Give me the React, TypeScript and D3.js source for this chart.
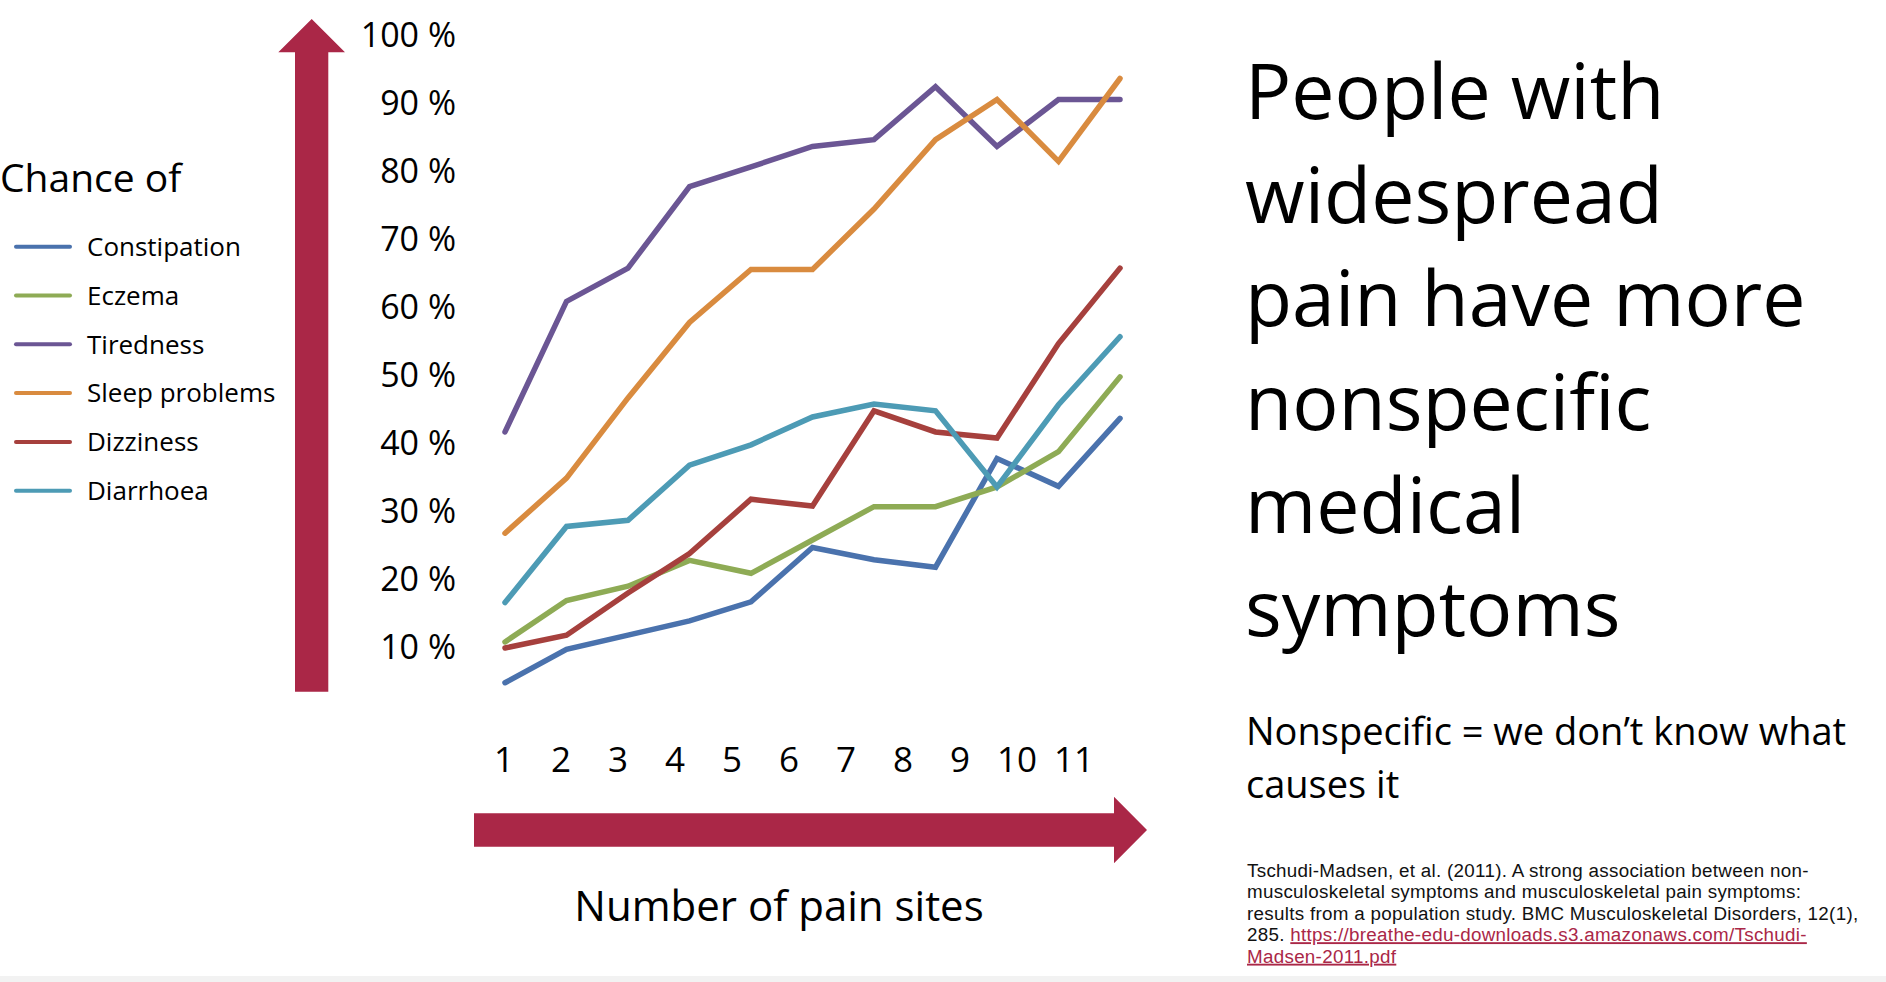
import { useMemo } from "react";
import * as d3 from "d3";

// number of pain sites
const sites = [1, 2, 3, 4, 5, 6, 7, 8, 9, 10, 11];

// chance of symptom (%) per number of pain sites
const constipation = [4.7, 9.6, 11.7, 13.8, 16.6, 24.6, 22.8, 21.7, 37.7, 33.6, 43.6];
const eczema = [10.7, 16.8, 18.9, 22.7, 20.8, 25.7, 30.6, 30.6, 33.5, 38.7, 49.7];
const tiredness = [41.6, 60.8, 65.7, 77.7, 80.6, 83.6, 84.6, 92.4, 83.6, 90.5, 90.5];
const sleepProblems = [26.7, 34.8, 46.6, 57.7, 65.5, 65.5, 74.4, 84.6, 90.5, 81.4, 93.6];
const dizziness = [9.8, 11.7, 17.9, 23.7, 31.7, 30.7, 44.7, 41.6, 40.7, 54.6, 65.7];
const diarrhoea = [16.5, 27.7, 28.6, 36.7, 39.7, 43.8, 45.7, 44.7, 33.5, 45.6, 55.6];

const seriesNames = ["Constipation", "Eczema", "Tiredness", "Sleep problems", "Dizziness", "Diarrhoea"];
const seriesValues = [constipation, eczema, tiredness, sleepProblems, dizziness, diarrhoea];
const seriesColors = ["#4a72ad", "#8eab55", "#6b5694", "#d98b3f", "#a6403d", "#4d9bb5"];

const yTicks = [10, 20, 30, 40, 50, 60, 70, 80, 90, 100];

const titleLines = ["People with", "widespread", "pain have more", "nonspecific", "medical", "symptoms"];

const W = 1886;
const H = 982;
const CRIMSON = "#aa2747";
const FONT = "'Open Sans', 'Noto Sans', sans-serif";
// compact metrics so the tightly set reference lines do not collide
const SMALL_FONT = "'Liberation Sans', Arial, sans-serif";

export default function App() {
  const { xLabel, y, lines } = useMemo(() => {
    const x = d3.scalePoint<number>().domain(sites).range([505, 1120]);
    // the slide's tick labels sit on their own, slightly narrower spacing
    const xLabel = d3.scalePoint<number>().domain(sites).range([504, 1074]);
    const y = d3.scaleLinear().domain([10, 100]).range([646.7, 35]);
    const line = d3
      .line<number>()
      .x((_, i) => x(sites[i]) ?? 0)
      .y((v) => y(v));
    const lines = seriesValues.map((vals, i) => ({
      name: seriesNames[i],
      color: seriesColors[i],
      d: line(vals) ?? "",
    }));
    return { xLabel, y, lines };
  }, []);

  return (
    <div style={{ position: "fixed", left: 0, top: 0, width: W, height: H, background: "#fff" }}>
      <svg width={W} height={H} style={{ display: "block" }} fontFamily={FONT}>
        <rect x={0} y={976} width={W} height={6} fill="#f2f2f2" />

        {/* vertical arrow */}
        <path d="M295,691.7 L295,52.3 L278.3,52.3 L311.7,19 L345,52.3 L328.3,52.3 L328.3,691.7 Z" fill={CRIMSON} />
        {/* horizontal arrow */}
        <path d="M474,813.3 L1114,813.3 L1114,796.7 L1147,830 L1114,863.3 L1114,846.7 L474,846.7 Z" fill={CRIMSON} />

        {/* legend */}
        <text x={0} y={191.7} fontSize={39} fill="#000">Chance of</text>
        {seriesNames.map((name, i) => {
          const ly = 246.7 + i * 48.8;
          return (
            <g key={name}>
              <line x1={16} x2={70} y1={ly} y2={ly} stroke={seriesColors[i]} strokeWidth={4} strokeLinecap="round" />
              <text x={87} y={ly} dy="0.36em" fontSize={26} fill="#000">{name}</text>
            </g>
          );
        })}

        {/* y tick labels */}
        {yTicks.map((t) => (
          <text key={t} x={456} y={y(t)} dy="0.36em" textAnchor="end" fontSize={34} fill="#000">
            {t} %
          </text>
        ))}

        {/* x tick labels */}
        {sites.map((s) => (
          <text key={s} x={xLabel(s)} y={771.7} textAnchor="middle" fontSize={35} fill="#000">
            {s}
          </text>
        ))}
        <text x={779} y={920.7} textAnchor="middle" fontSize={42} fill="#000">Number of pain sites</text>

        {/* series lines */}
        {lines.map((l) => (
          <path key={l.name} d={l.d} fill="none" stroke={l.color} strokeWidth={5.5} strokeLinejoin="miter" strokeLinecap="round" />
        ))}

        {/* right-hand text */}
        {titleLines.map((t, i) => (
          <text key={t} x={1245} y={119.3 + i * 103.4} fontSize={77} fill="#000">{t}</text>
        ))}
        <text x={1246} y={745} fontSize={38} fill="#000">Nonspecific = we don’t know what</text>
        <text x={1246} y={798} fontSize={38} fill="#000">causes it</text>

        <g fontSize={18.8} fill="#111" fontFamily={SMALL_FONT} letterSpacing={0.3}>
          <text x={1247} y={876.7}>Tschudi-Madsen, et al. (2011). A strong association between non-</text>
          <text x={1247} y={898.2}>musculoskeletal symptoms and musculoskeletal pain symptoms:</text>
          <text x={1247} y={919.7}>results from a population study. BMC Musculoskeletal Disorders, 12(1),</text>
          <text x={1247} y={941.2}>
            285.{" "}
            <tspan fill={CRIMSON} textDecoration="underline">https://breathe-edu-downloads.s3.amazonaws.com/Tschudi-</tspan>
          </text>
          <text x={1247} y={962.7} fill={CRIMSON} textDecoration="underline">Madsen-2011.pdf</text>
        </g>
      </svg>
    </div>
  );
}
